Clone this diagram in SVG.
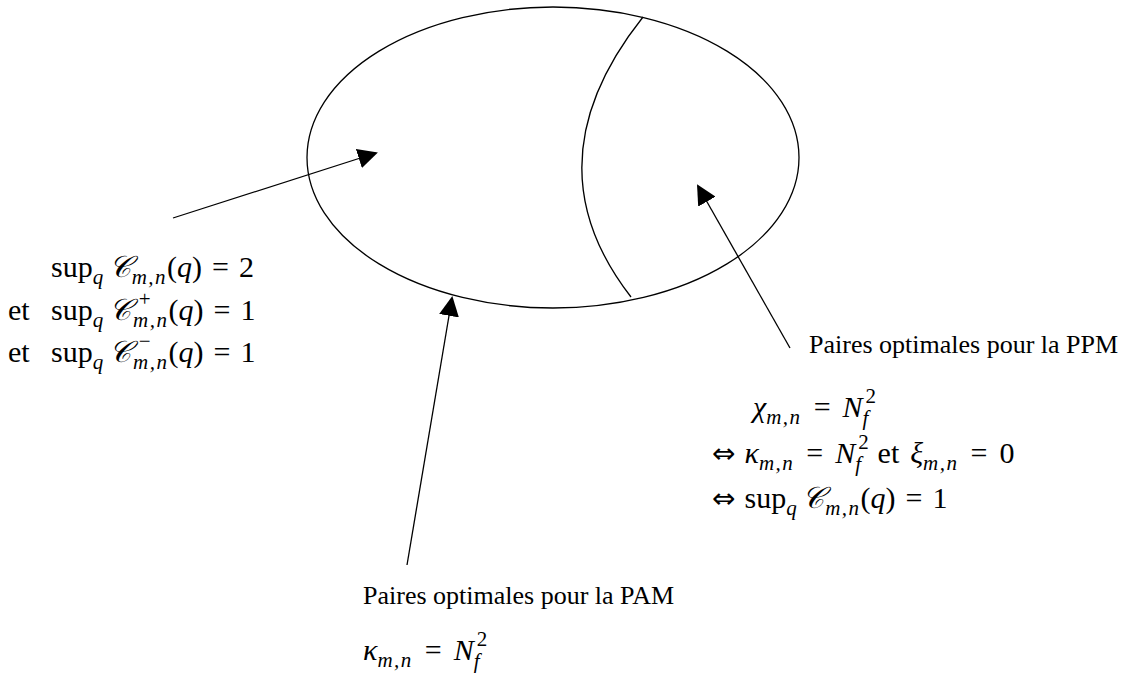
<svg xmlns="http://www.w3.org/2000/svg" width="1134" height="679" viewBox="0 0 1134 679">
<style>
.t{font-family:"Liberation Serif","DejaVu Serif",serif;font-size:26px;fill:#000}
.m{font-family:"Liberation Serif","DejaVu Serif",serif;font-size:30px;fill:#000}
.i{font-style:italic}
.s{font-size:21px;letter-spacing:1.5px}
.iff{font-family:"DejaVu Sans",sans-serif;font-size:28px}
.ln{fill:none;stroke:#000;stroke-width:1.3}
</style>
<defs>
<marker id="ah" markerWidth="20" markerHeight="20" refX="18" refY="10" orient="auto" markerUnits="userSpaceOnUse">
<path d="M0,0 L20,10 L0,20 Z" fill="#000"/>
</marker>
</defs>
<rect width="1134" height="679" fill="#fff"/>
<g id="set">
<ellipse class="ln" cx="553" cy="157.5" rx="246" ry="150.5"/>
<path class="ln" d="M643,17 Q527,163 631,297"/>
</g>
<g id="connectors">
<line class="ln" x1="173" y1="218" x2="376" y2="153" marker-end="url(#ah)"/>
<line class="ln" x1="407" y1="565" x2="452" y2="298" marker-end="url(#ah)"/>
<line class="ln" x1="790" y1="348" x2="698" y2="186" marker-end="url(#ah)"/>
</g>
<g id="left-label">
<text class="m" x="51" y="277">sup<tspan class="s i" dy="7">q</tspan><tspan class="i" dx="4" dy="-7">𝒞</tspan><tspan class="s i" dx="1" dy="7">m,n</tspan><tspan dy="-7">(</tspan><tspan class="i">q</tspan>)<tspan dx="10">=</tspan><tspan dx="10">2</tspan></text>
<text class="m" x="8" y="320">et</text>
<text class="m" x="51" y="320">sup<tspan class="s i" dy="7">q</tspan><tspan class="i" dx="4" dy="-7">𝒞</tspan><tspan class="s" dx="8" dy="-14">+</tspan><tspan class="s i" dx="-19" dy="21">m,n</tspan><tspan dy="-7">(</tspan><tspan class="i">q</tspan>)<tspan dx="10">=</tspan><tspan dx="10">1</tspan></text>
<text class="m" x="8" y="362">et</text>
<text class="m" x="51" y="362">sup<tspan class="s i" dy="7">q</tspan><tspan class="i" dx="4" dy="-7">𝒞</tspan><tspan class="s" dx="8" dy="-14">−</tspan><tspan class="s i" dx="-19" dy="21">m,n</tspan><tspan dy="-7">(</tspan><tspan class="i">q</tspan>)<tspan dx="10">=</tspan><tspan dx="10">1</tspan></text>
</g>
<g id="ppm-label">
<text class="t" x="809" y="353">Paires optimales pour la PPM</text>
<text class="m" x="753" y="417"><tspan class="i">χ</tspan><tspan class="s i" dy="7">m,n</tspan><tspan dx="12" dy="-7">=</tspan><tspan class="i" dx="12">N</tspan><tspan class="s" dx="3" dy="-14">2</tspan><tspan class="s i" dx="-15" dy="22">f</tspan></text>
<text class="m" x="712" y="463"><tspan class="iff">⇔</tspan><tspan class="i" dx="9">κ</tspan><tspan class="s i" dy="7">m,n</tspan><tspan dx="12" dy="-7">=</tspan><tspan class="i" dx="12">N</tspan><tspan class="s" dx="3" dy="-14">2</tspan><tspan class="s i" dx="-15" dy="22">f</tspan><tspan dx="15" dy="-8">et</tspan><tspan class="i" dx="11">ξ</tspan><tspan class="s i" dy="7">m,n</tspan><tspan dx="12" dy="-7">=</tspan><tspan dx="12">0</tspan></text>
<text class="m" x="712" y="508"><tspan class="iff">⇔</tspan><tspan dx="9">sup</tspan><tspan class="s i" dy="7">q</tspan><tspan class="i" dx="4" dy="-7">𝒞</tspan><tspan class="s i" dx="1" dy="7">m,n</tspan><tspan dy="-7">(</tspan><tspan class="i">q</tspan>)<tspan dx="10">=</tspan><tspan dx="10">1</tspan></text>
</g>
<g id="pam-label">
<text class="t" x="363" y="604">Paires optimales pour la PAM</text>
<text class="m" x="363" y="660"><tspan class="i">κ</tspan><tspan class="s i" dy="7">m,n</tspan><tspan dx="12" dy="-7">=</tspan><tspan class="i" dx="12">N</tspan><tspan class="s" dx="3" dy="-14">2</tspan><tspan class="s i" dx="-15" dy="22">f</tspan></text>
</g>
</svg>
